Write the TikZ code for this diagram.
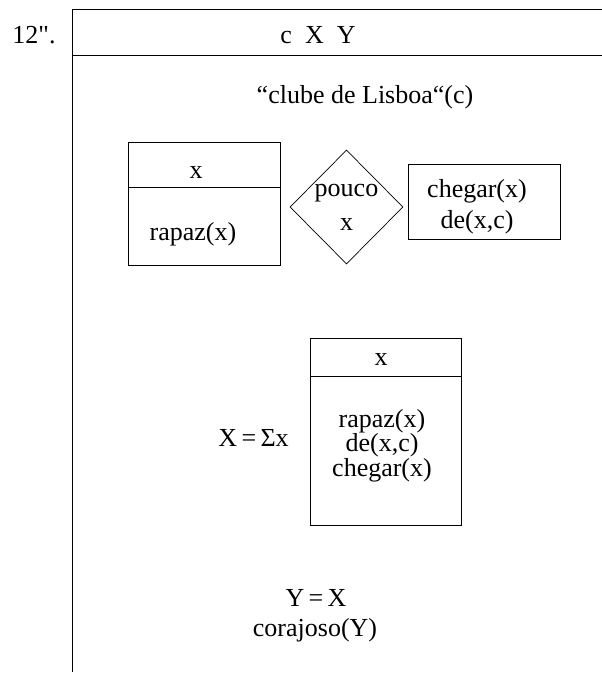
\documentclass[tikz,border=0pt]{standalone}
\usepackage{fontspec}
\setmainfont{Liberation Serif}[Ligatures=TeXOff]
\usetikzlibrary{shapes.geometric,positioning}

\begin{document}
\begin{tikzpicture}[
        x=1pt, y=-1pt,
        line width=0.7pt,
        font=\fontsize{26}{24}\selectfont,
        % boxes of the DRS and its sub-boxes
        drsbox/.style={rectangle, draw, inner sep=0pt, align=center},
        cond/.style={diamond, draw, aspect=1, inner sep=0pt, align=center,
            minimum width=113pt, minimum height=114pt},
        txt/.style={inner sep=0pt, align=center}
    ]
        \useasboundingbox (0,0) rectangle (602,675);

        % outer box: universe line and left border
        \draw (602,9) -- (72,9) -- (72,672);
        \draw (72,55) -- (602,55);
        \node[txt] (num) at (34,35) {12".};
        \node[txt] (univ) at (318,35) {c~~X~~Y};
        \node[txt] (club) at (365,97) {“clube de Lisboa“(c)};

        % left box, quantifier, right box
        \node[drsbox, minimum width=152pt, minimum height=45pt] (rhead) at (204,164.5) {};
        \node[drsbox, minimum width=152pt, minimum height=78pt, below=0pt of rhead] (rbody) {};
        \node[txt] (rref) at (196,173) {x};
        \node[txt] (rcond) at (193,234) {rapaz(x)};

        \node[cond] (few) at (346.5,207) {pouco\\[10pt]x};

        \node[drsbox, minimum width=152pt, minimum height=75pt] (cbox) at (484,202) {};
        \node[txt] (ccond) at (477,206.5) {chegar(x)\\[7pt]de(x,c)};

        % sum box
        \node[drsbox, minimum width=151pt, minimum height=38pt] (shead) at (385.5,357) {};
        \node[drsbox, minimum width=151pt, minimum height=149pt, below=0pt of shead] (sbody) {};
        \node[txt] (sref) at (381,360) {x};
        \node[txt, font=\fontsize{26}{20.5}\selectfont] (scond) at (382,445.5)
            {rapaz(x)\\de(x,c)\\chegar(x)};
        \node[txt, anchor=east] (sum) at (289,438) {X\,=\,Σx};

        % last conditions
        \node[txt] (eq) at (316,598) {Y\,=\,X};
        \node[txt] (brave) at (315,630) {corajoso(Y)};
\end{tikzpicture}
\end{document}
